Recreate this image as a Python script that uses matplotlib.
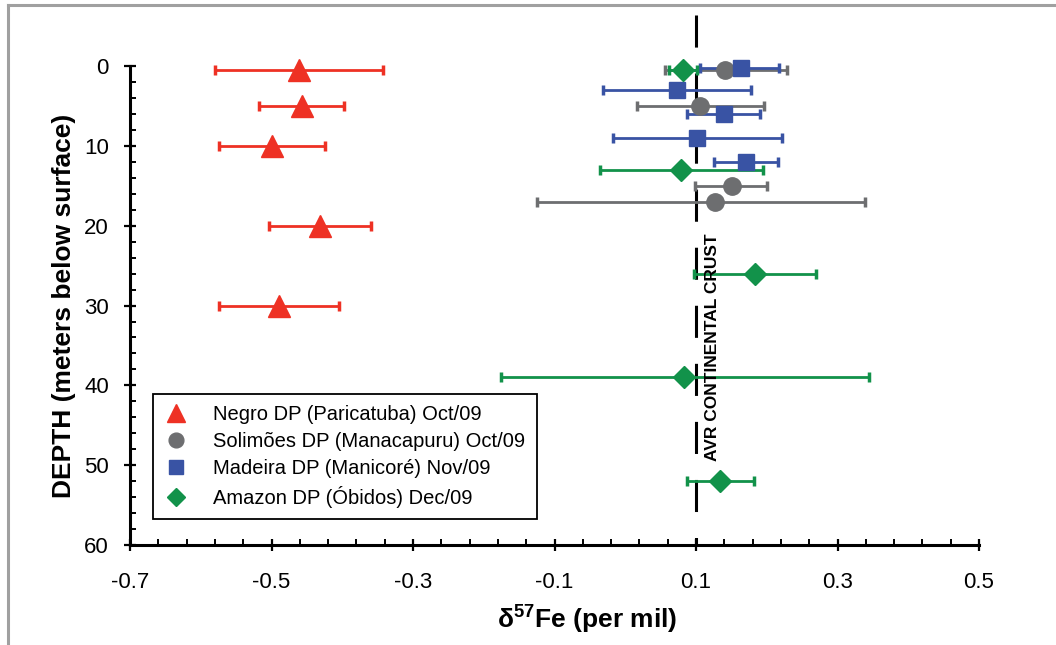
import matplotlib
matplotlib.use("Agg")
import matplotlib.pyplot as plt
from matplotlib.lines import Line2D
from matplotlib.ticker import FixedLocator
import numpy as np

plt.rcParams["font.family"] = ["Liberation Sans", "DejaVu Sans"]
plt.rcParams["mathtext.fontset"] = "custom"
plt.rcParams["mathtext.rm"] = "Liberation Sans"
plt.rcParams["mathtext.bf"] = "Liberation Sans:bold"

# delta57Fe values (per mil), error bar ends and depth (m)
negro_x = [-0.461, -0.457, -0.499, -0.431, -0.489]
negro_lo = [-0.580, -0.517, -0.574, -0.504, -0.574]
negro_hi = [-0.342, -0.398, -0.424, -0.360, -0.405]
negro_depth = [0.5, 5, 10, 20, 30]

solimoes_x = [0.141, 0.106, 0.151, 0.127]
solimoes_lo = [0.056, 0.017, 0.099, -0.125]
solimoes_hi = [0.228, 0.196, 0.201, 0.339]
solimoes_depth = [0.5, 5, 15, 17]

madeira_x = [0.163, 0.073, 0.139, 0.101, 0.171]
madeira_lo = [0.106, -0.032, 0.087, -0.018, 0.126]
madeira_hi = [0.217, 0.178, 0.191, 0.221, 0.216]
madeira_depth = [0.3, 3, 6, 9, 12]

amazon_x = [0.082, 0.079, 0.183, 0.083, 0.134]
amazon_lo = [0.062, -0.036, 0.097, -0.176, 0.087]
amazon_hi = [0.102, 0.194, 0.269, 0.344, 0.182]
amazon_depth = [0.5, 13, 26, 39, 52]

crust_value = 0.1

x_ticks = [-0.7, -0.5, -0.3, -0.1, 0.1, 0.3, 0.5]
y_ticks = [0, 10, 20, 30, 40, 50, 60]

series = [
    ("Negro DP (Paricatuba) Oct/09", negro_x, negro_lo, negro_hi, negro_depth, "^", 15.5, "#ee3124"),
    ("Solimões DP (Manacapuru) Oct/09", solimoes_x, solimoes_lo, solimoes_hi, solimoes_depth, "o", 12.5, "#6d6e70"),
    ("Madeira DP (Manicoré) Nov/09", madeira_x, madeira_lo, madeira_hi, madeira_depth, "s", 11.3, "#3953a4"),
    ("Amazon DP (Óbidos) Dec/09", amazon_x, amazon_lo, amazon_hi, amazon_depth, "D", 10.7, "#12924a"),
]

fig = plt.figure(figsize=(10.56, 6.45), dpi=100)
ax = fig.add_axes([130 / 1056, 100 / 645, 849 / 1056, 530 / 645])

ax.plot([crust_value, crust_value], [-6.4, 60], color="black", lw=2.2,
        linestyle=(0, (10.5, 8.5)), zorder=1.5, solid_capstyle="butt")

handles = []
labels = []
for label, x, lo, hi, depth, marker, ms, color in series:
    x = np.array(x)
    xerr = [x - np.array(lo), np.array(hi) - x]
    eb = ax.errorbar(x, depth, xerr=xerr, fmt=marker, ms=ms, color=color,
                     mec=color, ecolor=color, elinewidth=2, capsize=3.5,
                     capthick=2.5, zorder=2)
    handles.append(eb[0])
    labels.append(label)

ax.text(0.123, 49.5, "AVR CONTINENTAL CRUST", rotation=90, ha="center",
        va="bottom", fontsize=12.5, fontweight="bold")

ax.set_xlim(-0.7, 0.5)
ax.set_ylim(60, -6.4)
ax.spines["top"].set_visible(False)
ax.spines["right"].set_visible(False)
ax.spines["left"].set_bounds(0, 60)
ax.spines["left"].set_linewidth(2.2)
ax.spines["bottom"].set_linewidth(2.2)

ax.set_xticks(x_ticks)
ax.set_xticklabels([f"{v:.1f}" for v in x_ticks])
ax.xaxis.set_minor_locator(FixedLocator(np.arange(-0.7, 0.501, 0.04)))
ax.set_yticks(y_ticks)
ax.yaxis.set_minor_locator(FixedLocator(np.arange(0, 61, 2)))

ax.tick_params(which="major", direction="inout", length=8.5, width=1.6, labelsize=16)
ax.tick_params(which="minor", direction="in", length=4, width=1.4)
ax.tick_params(axis="x", which="major", pad=15)
ax.tick_params(axis="y", which="major", pad=11)

ax.set_xlabel("δ$^{\\mathbf{57}}$Fe (per mil)", fontsize=19, fontweight="bold", va="center")
ax.xaxis.set_label_coords(0.538, -0.138)
ax.set_ylabel("DEPTH (meters below surface)", fontsize=19, fontweight="bold", va="center")
ax.yaxis.set_label_coords(-0.0777, 0.451)

leg = ax.legend(handles, labels, loc="upper left", bbox_to_anchor=(0.027, 0.285),
                borderaxespad=0, fontsize=14.5, frameon=True, fancybox=False,
                edgecolor="black", framealpha=1, handlelength=1.2,
                handletextpad=1.25, labelspacing=0.4, borderpad=0.55,
                markerscale=0.85)
leg.get_frame().set_linewidth(1.3)

# grey frame round the figure
fig.add_artist(Line2D([7.5 / 1056, 1], [1 - 4.5 / 645, 1 - 4.5 / 645],
                      transform=fig.transFigure, color="#a0a0a0", lw=2.2))
fig.add_artist(Line2D([7.5 / 1056, 7.5 / 1056], [0, 1 - 4.5 / 645],
                      transform=fig.transFigure, color="#a0a0a0", lw=2.2))

fig.savefig("out.png", dpi=100)
